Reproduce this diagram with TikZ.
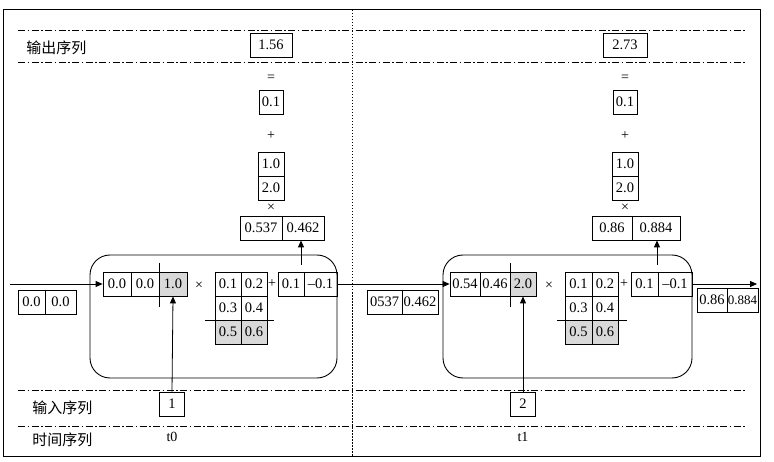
\documentclass[tikz,border=0pt]{standalone}
\usepackage{fontspec}
\setmainfont{Liberation Serif}
\newfontfamily\cjk{Noto Sans CJK SC}
\usetikzlibrary{arrows.meta}
\begin{document}
\begin{tikzpicture}[x=1pt,y=-1pt,
  line width=0.8pt,
  cell/.style={draw, inner sep=0pt, minimum height=24pt, font=\fontsize{14.5}{16}\selectfont},
  shaded/.style={cell, fill=gray!30},
  op/.style={inner sep=0pt, font=\fontsize{14}{16}\selectfont},
  lbl/.style={inner sep=0pt, anchor=west, font=\cjk\fontsize{15}{17}\selectfont},
  band/.style={line width=0.8pt, dash pattern=on 7pt off 2.5pt on 1.5pt off 2.5pt},
  cellbox/.style={draw, rounded corners=20pt, line width=0.9pt, inner sep=0pt},
  arr/.style={-{Triangle[length=7pt,width=6pt]}},
  sepline/.style={line width=0.5pt}]
\useasboundingbox (0,0) rectangle (774,462);
% frame, divider, bands
\draw[line width=1pt] (3,10) rectangle (760,456);
\draw[line width=0.7pt, dash pattern=on 1.5pt off 1.5pt] (352,10) -- (352,456);
\draw[band] (18,30) -- (745,30);
\draw[band] (18,62) -- (745,62);
\draw[band] (18,390) -- (745,390);
\draw[band] (18,426) -- (745,426);
% row labels
\node[lbl] (lblOut) at (26,48) {输出序列};
\node[lbl] (lblIn) at (32,408) {输入序列};
\node[lbl] (lblT) at (32,440) {时间序列};

% ================= t0 =================
\node[cellbox, minimum width=247pt, minimum height=123pt] (rnnL) at (213.5,316.5) {};
\node[cell, minimum width=42pt] (outL) at (271,45) {1.56};
\node[op] (eqL) at (271,78) {=};
\node[cell, minimum width=24pt] (bL) at (271,102) {0.1};
\node[op] (plL) at (271,136) {+};
\node[cell, minimum width=26pt] (w1L) at (271,164) {1.0};
\node[cell, minimum width=26pt] (w2L) at (271,188) {2.0};
\node[op] (tmL) at (271,208) {×};
\node[cell, minimum width=42pt] (h1L) at (261,228) {0.537};
\node[cell, minimum width=42pt] (h2L) at (303,228) {0.462};
% input vector
\node[cell, minimum width=28pt] (xaL) at (117,284) {0.0};
\node[cell, minimum width=28pt] (xbL) at (145,284) {0.0};
\node[shaded, minimum width=28pt] (xcL) at (173,284) {1.0};
\draw[sepline] (159,263) -- (159,307);
\node[op] (mulL) at (199,286) {×};
% weight matrix
\node[cell, minimum width=26pt] (m11L) at (228,284) {0.1};
\node[cell, minimum width=26pt] (m12L) at (254,284) {0.2};
\node[cell, minimum width=26pt] (m21L) at (228,308) {0.3};
\node[cell, minimum width=26pt] (m22L) at (254,308) {0.4};
\node[shaded, minimum width=26pt] (m31L) at (228,332) {0.5};
\node[shaded, minimum width=26pt] (m32L) at (254,332) {0.6};
\draw[sepline] (205,320) -- (274,320);
\node[op] (addL) at (272,284) {+};
% bias
\node[cell, minimum width=26pt] (b1L) at (291,284) {0.1};
\node[cell, minimum width=33pt] (b2L) at (320.5,284) {–0.1};
% state boxes
\node[cell, minimum width=27pt] (s1L) at (31.5,302) {0.0};
\node[cell, minimum width=31pt] (s2L) at (60.5,302) {0.0};
\node[cell, minimum width=35pt] (s1M) at (384.5,302) {0537};
\node[cell, minimum width=36pt] (s2M) at (420,302) {0.462};
% input / time
\node[cell, minimum width=25pt] (inL) at (172,404) {1};
\node[op] (tL) at (172,437) {t0};
\coordinate (startL) at (10,284);
\coordinate (upL) at (301,265);
\draw[arr] (startL) -- (xaL.west);
\draw[arr] (inL.north) -- (xcL.south);
\draw[arr] (upL) -- (upL |- h2L.south);

% ================= t1 =================
\node[cellbox, minimum width=249pt, minimum height=123pt] (rnnR) at (567.5,316.5) {};
\node[cell, minimum width=44pt] (outR) at (625,45) {2.73};
\node[op] (eqR) at (625,78) {=};
\node[cell, minimum width=24pt] (bR) at (625,102) {0.1};
\node[op] (plR) at (625,136) {+};
\node[cell, minimum width=26pt] (w1R) at (625,164) {1.0};
\node[cell, minimum width=26pt] (w2R) at (625,188) {2.0};
\node[op] (tmR) at (625,208) {×};
\node[cell, minimum width=40pt] (h1R) at (612,228) {0.86};
\node[cell, minimum width=48pt] (h2R) at (656,228) {0.884};
% input vector
\node[cell, minimum width=30pt] (xaR) at (465,284) {0.54};
\node[cell, minimum width=30pt] (xbR) at (495,284) {0.46};
\node[shaded, minimum width=26pt] (xcR) at (523,284) {2.0};
\draw[sepline] (510,263) -- (510,307);
\node[op] (mulR) at (549,286) {×};
% weight matrix
\node[cell, minimum width=27pt] (m11R) at (578.5,284) {0.1};
\node[cell, minimum width=26pt] (m12R) at (605,284) {0.2};
\node[cell, minimum width=27pt] (m21R) at (578.5,308) {0.3};
\node[cell, minimum width=26pt] (m22R) at (605,308) {0.4};
\node[shaded, minimum width=27pt] (m31R) at (578.5,332) {0.5};
\node[shaded, minimum width=26pt] (m32R) at (605,332) {0.6};
\draw[sepline] (557,320) -- (627,320);
\node[op] (addR) at (624,284) {+};
% bias
\node[cell, minimum width=27pt] (b1R) at (644.5,284) {0.1};
\node[cell, minimum width=34pt] (b2R) at (675,284) {–0.1};
% state box
\node[cell, minimum width=30pt] (s1R) at (712,300) {0.86};
\node[cell, minimum width=31pt, font=\fontsize{13}{15}\selectfont] (s2R) at (742.5,300) {0.884};
% input / time
\node[cell, minimum width=25pt] (inR) at (523,404) {2};
\node[op] (tR) at (523,437) {t1};
\coordinate (upR) at (657,265);
\coordinate (endR) at (757,284);
\draw[arr] (b2L.east) -- (xaR.west);
\draw[arr] (inR.north) -- (xcR.south);
\draw[arr] (upR) -- (upR |- h2R.south);
\draw[arr] (b2R.east) -- (endR);
\end{tikzpicture}
\end{document}
